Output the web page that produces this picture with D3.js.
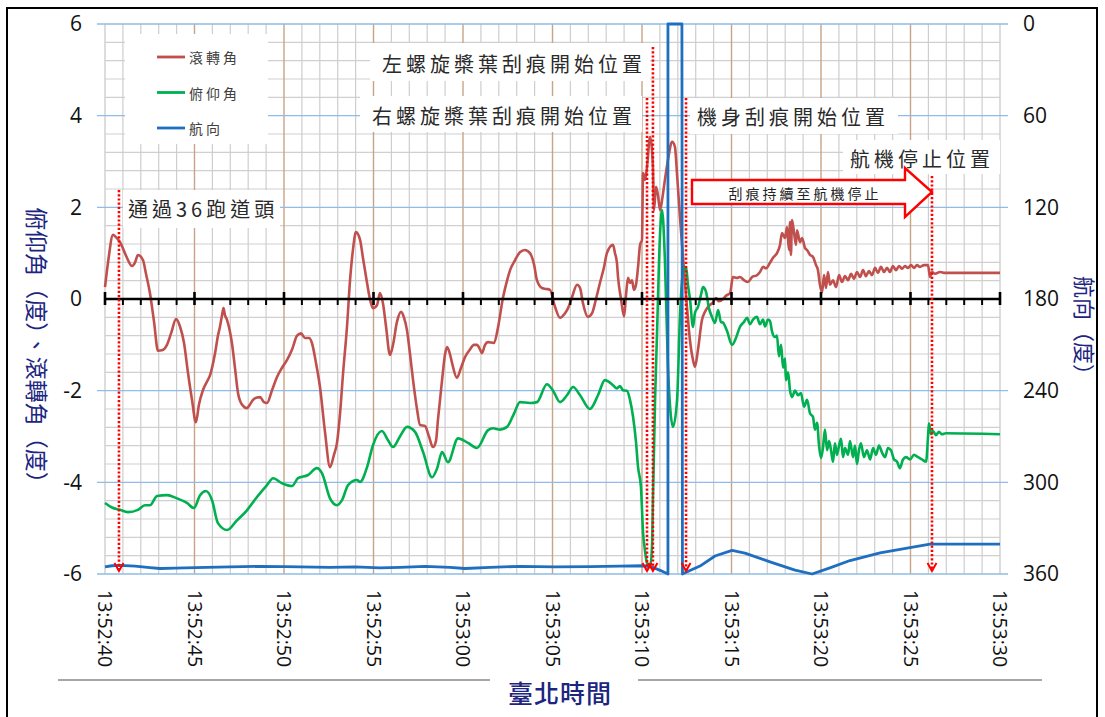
<!DOCTYPE html>
<html><head><meta charset="utf-8">
<script src="https://cdn.jsdelivr.net/npm/d3@7"></script>
<style>body{margin:0;background:#fff;} svg{display:block;}</style>
</head><body>
<svg id="c" width="1105" height="717"></svg>
<script>
// ---- data (time in seconds after 13:52:40) ----
const seriesNames = ["滾轉角", "俯仰角", "航向"];
const xTickSeconds = [0, 5, 10, 15, 20, 25, 30, 35, 40, 45, 50];
const xTickLabels = ["13:52:40","13:52:45","13:52:50","13:52:55","13:53:00","13:53:05","13:53:10","13:53:15","13:53:20","13:53:25","13:53:30"];
const leftTicks = [-6, -4, -2, 0, 2, 4, 6];
const rightTicks = [0, 60, 120, 180, 240, 300, 360];

const roll = [[0,0.26],[0.17,0.8],[0.45,1.40],[0.61,1.35],[0.84,1.24],[1.17,0.95],[1.51,0.72],[1.68,0.80],[1.84,0.96],[2.12,0.85],[2.29,0.55],[2.51,0.13],[2.74,-0.5],[2.96,-1.13],[3.18,-1.12],[3.46,-1.0],[3.69,-0.75],[3.97,-0.44],[4.19,-0.6],[4.41,-0.95],[4.64,-1.62],[4.86,-2.2],[5.08,-2.69],[5.25,-2.3],[5.47,-1.99],[5.70,-1.8],[5.87,-1.66],[6.15,-1.18],[6.31,-0.8],[6.42,-0.61],[6.54,-0.35],[6.62,-0.2],[6.70,-0.35],[6.82,-0.46],[7.09,-0.96],[7.26,-1.5],[7.43,-2.05],[7.65,-2.3],[7.93,-2.38],[8.10,-2.3],[8.27,-2.2],[8.49,-2.15],[8.66,-2.14],[8.88,-2.25],[9.05,-2.27],[9.33,-1.99],[9.61,-1.70],[9.89,-1.5],[10.17,-1.33],[10.45,-1.1],[10.73,-0.80],[10.95,-0.75],[11.17,-0.85],[11.40,-0.85],[11.56,-0.96],[11.79,-1.4],[12.01,-1.92],[12.29,-2.9],[12.57,-3.67],[12.79,-3.4],[12.96,-3.14],[13.13,-2.5],[13.30,-1.62],[13.52,-0.6],[13.69,0.41],[13.86,1.1],[14.02,1.46],[14.25,1.29],[14.41,0.9],[14.64,0.35],[14.80,0.0],[14.97,-0.2],[15.20,-0.13],[15.36,0.13],[15.53,-0.1],[15.70,-0.6],[15.92,-1.22],[16.09,-1.0],[16.31,-0.5],[16.54,-0.28],[16.70,-0.4],[16.87,-0.68],[17.04,-1.2],[17.21,-1.77],[17.43,-2.4],[17.60,-2.75],[17.88,-2.77],[18.10,-3.0],[18.32,-3.23],[18.49,-3.1],[18.60,-2.64],[18.83,-1.77],[19.0,-1.2],[19.11,-1.05],[19.27,-1.2],[19.39,-1.40],[19.66,-1.72],[19.89,-1.5],[20.11,-1.27],[20.39,-1.1],[20.61,-1.0],[20.78,-1.0],[20.95,-1.1],[21.06,-1.18],[21.23,-1.0],[21.40,-0.94],[21.73,-0.96],[21.96,-0.61],[22.23,0.02],[22.46,0.4],[22.63,0.63],[22.91,0.85],[23.18,1.02],[23.46,1.07],[23.74,1.0],[23.97,0.75],[24.13,0.41],[24.41,0.24],[24.64,0.22],[24.86,0.2],[25.14,-0.17],[25.42,-0.41],[25.70,-0.31],[25.87,-0.2],[26.09,0.04],[26.37,0.31],[26.54,0.24],[26.70,-0.09],[26.98,-0.39],[27.21,-0.31],[27.43,0.0],[27.65,0.35],[27.88,0.7],[28.04,1.0],[28.38,1.18],[28.49,1.0],[28.60,0.79],[28.66,0.48],[28.83,0.0],[29.0,-0.38],[29.11,0.1],[29.22,0.46],[29.33,0.35],[29.44,0.41],[29.55,0.2],[29.66,0.3],[29.78,0.70],[29.89,1.18],[30.0,1.29],[30.06,2.75],[30.17,2.6],[30.28,2.88],[30.45,3.54],[30.56,3.25],[30.61,2.88],[30.67,1.94],[30.78,2.45],[30.89,2.27],[31.01,1.94],[31.12,2.16],[31.28,2.60],[31.45,3.03],[31.68,3.43],[31.84,3.32],[31.96,2.71],[32.12,1.79],[32.29,0.92],[32.51,-0.17],[32.68,-0.9],[32.85,-1.33],[32.96,-1.48],[33.13,-1.1],[33.35,-0.46],[33.52,-0.28],[33.69,-0.17],[33.97,-0.07],[34.13,0.02],[34.30,-0.05],[34.53,0.0],[34.69,0.07],[34.92,0.13],[35.08,0.48],[35.31,0.46],[35.47,0.48],[35.70,0.41],[35.92,0.37],[36.15,0.48],[36.42,0.52],[36.59,0.59],[36.76,0.70],[36.93,0.67],[37.15,0.79],[37.32,0.9],[37.54,1.0],[37.71,1.18],[37.82,1.44],[37.99,1.33],[38.10,1.57],[38.21,1.07],[38.27,1.68],[38.32,0.96],[38.38,1.72],[38.49,1.46],[38.60,1.18],[38.66,1.5],[38.83,1.24],[38.94,1.33],[39.11,1.11],[39.22,1.07],[39.39,0.96],[39.55,0.92],[39.72,0.74],[39.83,0.63],[39.94,0.31],[40.06,0.15],[40.17,0.52],[40.28,0.24],[40.39,0.59],[40.50,0.31],[40.67,0.41],[40.84,0.26],[41.01,0.52],[41.17,0.37],[41.34,0.5],[41.51,0.41],[41.68,0.55],[41.84,0.44],[42.01,0.59],[42.18,0.48],[42.35,0.63],[42.51,0.50],[42.68,0.61],[42.85,0.52],[43.02,0.68],[43.18,0.57],[43.35,0.70],[43.52,0.59],[43.69,0.68],[43.85,0.59],[44.02,0.72],[44.19,0.63],[44.36,0.72],[44.53,0.66],[44.69,0.72],[44.86,0.68],[45.03,0.74],[45.20,0.68],[45.36,0.74],[45.53,0.70],[45.75,0.74],[45.98,0.74],[46.09,0.48],[46.20,0.59],[46.37,0.55],[46.65,0.59],[46.93,0.57],[47.21,0.57],[50,0.57]];

const pitch = [[0,-4.45],[0.39,-4.55],[0.84,-4.6],[1.28,-4.65],[1.84,-4.6],[2.23,-4.5],[2.51,-4.5],[2.91,-4.3],[3.46,-4.28],[4.02,-4.35],[4.58,-4.45],[4.97,-4.56],[5.31,-4.28],[5.64,-4.19],[5.98,-4.39],[6.31,-4.89],[6.82,-5.04],[7.37,-4.83],[7.93,-4.61],[8.49,-4.32],[9.05,-4.06],[9.39,-3.91],[9.89,-4.02],[10.45,-4.08],[10.78,-3.91],[11.34,-3.84],[11.84,-3.69],[12.12,-3.8],[12.57,-4.35],[12.96,-4.5],[13.24,-4.39],[13.58,-4.06],[14.08,-3.95],[14.25,-3.99],[14.64,-3.67],[14.97,-3.19],[15.47,-2.88],[15.81,-3.08],[16.09,-3.23],[16.48,-3.0],[16.87,-2.79],[17.32,-2.9],[17.77,-3.34],[18.27,-3.89],[18.55,-3.7],[18.83,-3.34],[19.16,-3.56],[19.72,-3.04],[20.28,-3.14],[20.78,-3.25],[21.40,-2.86],[21.68,-2.82],[22.07,-2.85],[22.46,-2.79],[22.85,-2.5],[23.18,-2.25],[23.74,-2.27],[24.13,-2.25],[24.69,-1.86],[25.03,-2.0],[25.42,-2.25],[25.81,-2.1],[26.15,-1.92],[26.54,-2.1],[27.09,-2.4],[27.54,-2.1],[27.93,-1.77],[28.38,-1.88],[28.60,-1.95],[28.77,-1.9],[28.94,-1.99],[29.16,-2.0],[29.33,-2.2],[29.50,-2.57],[29.66,-3.1],[29.78,-3.67],[29.94,-4.1],[30.06,-5.1],[30.17,-5.5],[30.28,-5.76],[30.45,-5.85],[30.56,-5.4],[30.61,-4.39],[30.73,-2.2],[30.84,-0.74],[31.01,1.44],[31.12,1.94],[31.28,0.85],[31.45,-1.48],[31.56,-2.3],[31.73,-2.79],[31.96,-2.2],[32.12,-0.39],[32.29,0.57],[32.46,0.7],[32.57,0.3],[32.68,0.0],[32.85,-0.61],[32.96,-0.3],[33.13,-0.17],[33.30,0.1],[33.41,0.26],[33.58,0.15],[33.74,-0.2],[33.91,-0.39],[34.08,-0.52],[34.25,-0.24],[34.41,-0.5],[34.53,-0.52],[34.75,-0.7],[35.03,-1.0],[35.25,-0.85],[35.47,-0.61],[35.70,-0.5],[35.87,-0.41],[36.03,-0.55],[36.20,-0.45],[36.42,-0.39],[36.59,-0.55],[36.76,-0.45],[36.87,-0.6],[37.04,-0.45],[37.15,-0.48],[37.26,-0.7],[37.43,-0.83],[37.54,-0.8],[37.65,-1.25],[37.77,-1.0],[37.88,-1.5],[37.99,-1.3],[38.04,-1.77],[38.16,-1.6],[38.27,-2.0],[38.38,-2.14],[38.55,-2.0],[38.72,-2.1],[38.88,-2.05],[39.05,-2.35],[39.22,-2.2],[39.39,-2.5],[39.55,-2.57],[39.66,-2.85],[39.78,-2.7],[39.89,-3.2],[40.0,-3.47],[40.11,-3.25],[40.22,-2.85],[40.34,-3.3],[40.45,-3.1],[40.56,-3.3],[40.67,-3.55],[40.78,-3.15],[40.89,-3.4],[41.01,-3.2],[41.12,-3.05],[41.23,-3.45],[41.34,-3.25],[41.51,-3.4],[41.62,-3.1],[41.79,-3.45],[41.90,-3.2],[42.01,-3.6],[42.12,-3.3],[42.23,-3.15],[42.40,-3.45],[42.57,-3.3],[42.74,-3.5],[42.91,-3.25],[43.07,-3.4],[43.24,-3.2],[43.41,-3.35],[43.58,-3.45],[43.74,-3.25],[43.91,-3.3],[44.08,-3.5],[44.25,-3.55],[44.41,-3.69],[44.58,-3.5],[44.75,-3.45],[44.97,-3.5],[45.20,-3.4],[45.42,-3.45],[45.64,-3.5],[45.87,-3.55],[45.98,-3.0],[46.03,-2.71],[46.15,-2.95],[46.26,-2.88],[46.42,-2.97],[46.59,-2.9],[46.76,-2.95],[46.98,-2.93],[50,-2.95]];

const heading = [[0,355.4],[0.39,354.6],[0.84,354.4],[1.68,354.8],[2.51,355.8],[3.07,356.4],[3.91,356.2],[5.03,355.8],[6.98,355.4],[8.66,355.0],[10.06,355.2],[10.89,355.4],[12.57,355.6],[13.97,355.4],[15.36,356.0],[16.48,355.6],[17.88,355.0],[19.27,355.6],[20.11,356.4],[21.51,355.6],[23.18,355.0],[25.14,355.4],[27.09,355.2],[28.77,354.8],[30.0,354.6],[30.56,355.4],[31.01,357.6],[31.45,360],[31.45,0],[32.23,0],[32.26,360],[32.68,357.7],[33.24,354.8],[34.08,348.2],[35.03,344.5],[35.75,346.3],[37.15,352.1],[38.55,357.5],[39.50,360],[40.50,356],[41.62,351.2],[43.30,346.2],[44.97,342.8],[46.09,340.4],[50,340.4]];

const eventTimes = [0.78, 30.28, 30.61, 32.46, 46.2];
const eventLabels = ["通過36跑道頭", "右螺旋槳葉刮痕開始位置", "左螺旋槳葉刮痕開始位置", "機身刮痕開始位置", "航機停止位置"];
const arrowLabel = "刮痕持續至航機停止";

// ---- layout ----
const L = 105, R = 1000, T = 24, B = 574;
const x = d3.scaleLinear().domain([0, 50]).range([L, R]);
const y = d3.scaleLinear().domain([-6, 6]).range([B, T]);
const yR = d3.scaleLinear().domain([0, 360]).range([T, B]);

const svg = d3.select("#c");
const CJK = "'Noto Sans CJK TC','Noto Sans CJK SC',sans-serif";
const NUM = "'Open Sans','Liberation Sans',sans-serif";
const COLORS = ["#c0504d", "#00b050", "#1f6fc0"];
const NAVY = "#1c2580";

svg.append("rect").attr("width", 1105).attr("height", 717).attr("fill", "#fff");

// grid
const g = svg.append("g");
const minorH = d3.range(-6, 6.001, 0.4).map(v => +v.toFixed(1));
g.selectAll(".hm").data(minorH.filter(v => Math.abs(v % 2) > 0.01)).join("line")
  .attr("x1", L).attr("x2", R).attr("y1", d => y(d)).attr("y2", d => y(d))
  .attr("stroke", "#d0d0d0").attr("stroke-width", 1.2);
g.selectAll(".vm").data(d3.range(0, 51)).join("line")
  .attr("x1", d => x(d)).attr("x2", d => x(d)).attr("y1", T).attr("y2", B)
  .attr("stroke", d => (d % 5 === 0 && d !== 0 && d !== 50) ? "#c9a386" : "#cecece")
  .attr("stroke-width", d => (d % 5 === 0) ? 1.4 : 1.2);
g.selectAll(".hM").data(leftTicks.filter(v => v !== 0)).join("line")
  .attr("x1", L - 8).attr("x2", R + 8).attr("y1", d => y(d)).attr("y2", d => y(d))
  .attr("stroke", "#8fbde6").attr("stroke-width", 1.3);

// white boxes (legend + annotation backgrounds)
const boxes = [[125, 34, 143, 110], [123, 190, 157, 38], [370, 43, 280, 38], [360, 96, 282, 36], [690, 98, 208, 36], [843, 140, 157, 34]];
svg.selectAll(".wb").data(boxes).join("rect")
  .attr("x", d => d[0]).attr("y", d => d[1]).attr("width", d => d[2]).attr("height", d => d[3])
  .attr("fill", "#fff");

// axes labels
const ax = svg.append("g").attr("transform", `translate(${L},0)`)
  .call(d3.axisLeft(y).tickValues(leftTicks).tickSize(0).tickPadding(23).tickFormat(d => String(d)));
ax.select(".domain").remove();
ax.selectAll("text").attr("font-family", NUM).attr("font-size", 21).attr("fill", "#111");

const axr = svg.append("g").attr("transform", `translate(${R},0)`)
  .call(d3.axisRight(yR).tickValues(rightTicks).tickSize(0).tickPadding(23));
axr.select(".domain").remove();
axr.selectAll("text").attr("font-family", NUM).attr("font-size", 21).attr("fill", "#111");

const axb = svg.append("g").attr("transform", `translate(0,${B})`)
  .call(d3.axisBottom(x).tickValues(xTickSeconds).tickSize(0).tickFormat((d, i) => xTickLabels[i]));
axb.select(".domain").remove();
axb.selectAll(".tick text")
  .attr("font-family", NUM).attr("font-size", 19.5).attr("fill", "#111")
  .attr("text-anchor", "start").attr("dy", null).attr("y", 0).attr("x", 0)
  .attr("dominant-baseline", "central")
  .attr("transform", "translate(0,16) rotate(90)");

// series lines
const line = d3.line().x(d => x(d[0])).y(d => y(d[1])).curve(d3.curveMonotoneX);
const lineR = d3.line().x(d => x(d[0])).y(d => yR(d[1]));
svg.append("path").datum(roll).attr("d", line).attr("fill", "none")
  .attr("stroke", COLORS[0]).attr("stroke-width", 2.6).attr("stroke-linejoin", "round");
svg.append("path").datum(pitch).attr("d", line).attr("fill", "none")
  .attr("stroke", COLORS[1]).attr("stroke-width", 2.6).attr("stroke-linejoin", "round");
svg.append("path").datum(heading).attr("d", lineR).attr("fill", "none")
  .attr("stroke", COLORS[2]).attr("stroke-width", 2.8).attr("stroke-linejoin", "round");

// zero line with ticks
svg.append("line").attr("x1", L).attr("x2", R).attr("y1", y(0)).attr("y2", y(0))
  .attr("stroke", "#000").attr("stroke-width", 2.6);
svg.selectAll(".zt").data(d3.range(0, 51)).join("line")
  .attr("x1", d => x(d)).attr("x2", d => x(d))
  .attr("y1", d => d % 5 === 0 ? y(0) - 7 : y(0))
  .attr("y2", y(0) + 6)
  .attr("stroke", "#000").attr("stroke-width", d => d % 5 === 0 ? 2.6 : 2);

// event dotted lines
const eventTops = [190, 98, 47, 98, 176];
const ev = svg.append("g");
eventTimes.forEach((t, i) => {
  const xx = x(t);
  ev.append("line").attr("x1", xx).attr("x2", xx).attr("y1", eventTops[i]).attr("y2", B - 3)
    .attr("stroke", "#ff0000").attr("stroke-width", 2.6).attr("stroke-dasharray", "2.2,2");
  ev.append("path").attr("d", `M${xx - 4.5},${B - 11} L${xx},${B - 3} L${xx + 4.5},${B - 11}`)
    .attr("fill", "none").attr("stroke", "#ff0000").attr("stroke-width", 2);
});

// block arrow
svg.append("path")
  .attr("d", "M692,180 L905,180 L905,168 L932,192 L905,217 L905,204 L692,204 Z")
  .attr("fill", "#fff").attr("stroke", "#ff0000").attr("stroke-width", 2.4);
svg.append("text").attr("x", 805).attr("y", 193).attr("text-anchor", "middle")
  .attr("dominant-baseline", "central").attr("font-family", CJK).attr("font-size", 14)
  .attr("letter-spacing", 3).attr("fill", "#222").text(arrowLabel);

// annotation texts
const annPos = [[128, 208], [372, 115], [382, 63], [697, 116], [850, 158]];
eventLabels.forEach((s, i) => {
  svg.append("text").attr("x", annPos[i][0]).attr("y", annPos[i][1])
    .attr("dominant-baseline", "central").attr("font-family", CJK).attr("font-size", 20)
    .attr("letter-spacing", 4).attr("fill", "#2a2a2a").text(s);
});

// legend
const lg = svg.append("g");
seriesNames.forEach((s, i) => {
  const yy = 57 + i * 35.5;
  lg.append("line").attr("x1", 157).attr("x2", 185).attr("y1", yy).attr("y2", yy)
    .attr("stroke", COLORS[i]).attr("stroke-width", 2.8);
  lg.append("text").attr("x", 189).attr("y", yy).attr("dominant-baseline", "central")
    .attr("font-family", CJK).attr("font-size", 14).attr("letter-spacing", 3)
    .attr("fill", "#404040").text(s);
});

// axis titles
svg.append("text").attr("transform", "translate(38,351) rotate(90)")
  .attr("text-anchor", "middle").attr("dominant-baseline", "central")
  .attr("font-family", CJK).attr("font-size", 23).attr("fill", NAVY)
  .text("俯仰角（度）、滾轉角（度）");
svg.append("text").attr("transform", "translate(1086,331) rotate(90)")
  .attr("text-anchor", "middle").attr("dominant-baseline", "central")
  .attr("font-family", CJK).attr("font-size", 22).attr("fill", NAVY)
  .text("航向（度）");
svg.append("text").attr("x", 560).attr("y", 692)
  .attr("text-anchor", "middle").attr("dominant-baseline", "central")
  .attr("font-family", CJK).attr("font-size", 25).attr("letter-spacing", 1)
  .attr("font-weight", 500).attr("fill", NAVY).text("臺北時間");
svg.append("line").attr("x1", 58).attr("x2", 490).attr("y1", 680).attr("y2", 680)
  .attr("stroke", "#8a8a8a").attr("stroke-width", 1.5);
svg.append("line").attr("x1", 638).attr("x2", 1042).attr("y1", 680).attr("y2", 680)
  .attr("stroke", "#8a8a8a").attr("stroke-width", 1.5);

// outer border
svg.append("rect").attr("x", 7).attr("y", 8).attr("width", 1090).attr("height", 712)
  .attr("fill", "none").attr("stroke", "#000").attr("stroke-width", 2);
</script>
</body></html>
